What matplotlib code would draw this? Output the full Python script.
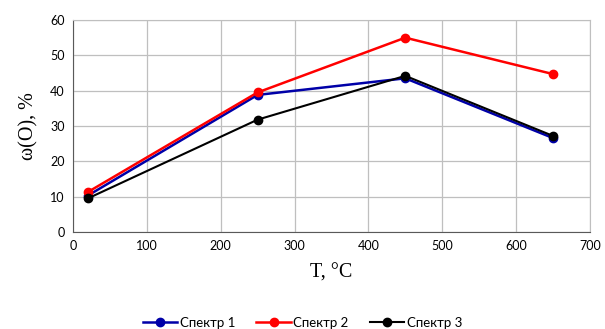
import matplotlib.pyplot as plt

temp = [20, 250, 450, 650]
spektr_1 = [10.3, 38.8, 43.5, 26.6]
spektr_2 = [11.3, 39.5, 55.0, 44.7]
spektr_3 = [9.5, 31.8, 44.2, 27.2]

fig = plt.figure(figsize=(6.05, 3.29), dpi=100)
ax = fig.add_axes([0.1207, 0.2948, 0.8543, 0.6444])

ax.plot(temp, spektr_1, color='#0000a8', marker='o', markersize=6, linewidth=1.8, label='Спектр 1')
ax.plot(temp, spektr_2, color='#ff0000', marker='o', markersize=6, linewidth=1.8, label='Спектр 2')
ax.plot(temp, spektr_3, color='black', marker='o', markersize=6, linewidth=1.5, label='Спектр 3')

ax.set_xlim(0, 700)
ax.set_ylim(0, 60)
ax.set_xticks(range(0, 701, 100))
ax.set_yticks(range(0, 61, 10))
ax.grid(True, color='#bfbfbf', linewidth=0.9)
ax.set_axisbelow(True)
for s in ['top', 'right']:
    ax.spines[s].set_color('#bfbfbf')
for s in ['left', 'bottom']:
    ax.spines[s].set_color('#595959')
ax.tick_params(length=0, labelsize=9, pad=6)
for lab in ax.get_xticklabels() + ax.get_yticklabels():
    lab.set_fontfamily('Lato')

ax.set_xlabel('T, °C', family='Liberation Serif', fontsize=14.5, labelpad=8)
ax.set_ylabel('ω(O), %', family='Liberation Serif', fontsize=14.5, labelpad=8)

fig.legend(loc='lower center', ncol=3, bbox_to_anchor=(0.5, -0.035), frameon=False,
           prop={'family': 'Lato', 'size': 9.5}, handlelength=2.6, columnspacing=1.6, handletextpad=0.2)

fig.savefig('out.png', dpi=100)
